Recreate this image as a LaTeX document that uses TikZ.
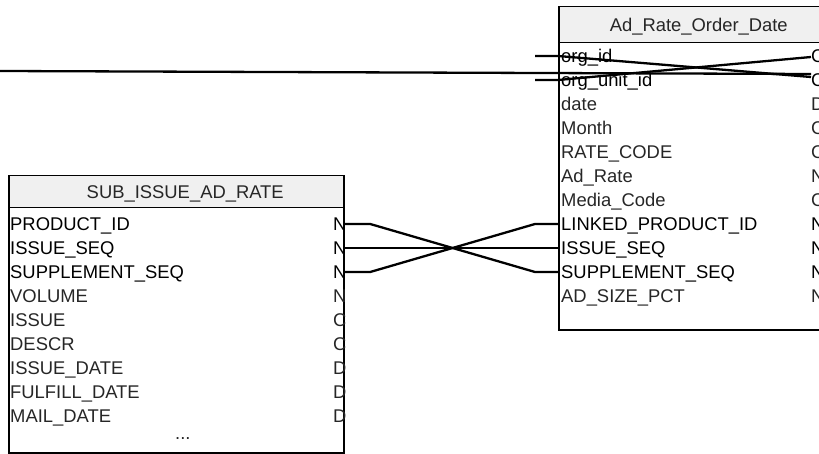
\documentclass[tikz,border=0pt]{standalone}
\usepackage{fontspec}
\setmainfont{Liberation Sans}
\begin{document}
\begin{tikzpicture}[x=1pt,y=-1pt,
	every node/.style={font=\fontsize{18.4}{20}\selectfont, inner sep=0pt, text height=13.2pt, text depth=0pt},
	tbl/.style={draw, line width=2.2pt, anchor=north west},
	hdr/.style={draw, line width=1.5pt, fill=black!6, anchor=north west},
	hdrtxt/.style={text=black!85},
	fld/.style={anchor=west, text=black!85},
	key/.style={anchor=west, text=black},
	rel/.style={line width=2.3pt}]
	\useasboundingbox (0,0) rectangle (819,454);
	\clip (0,0) rectangle (819,454);
	% SUB_ISSUE_AD_RATE
	\node[tbl, minimum width=335pt, minimum height=277pt] (sub) at (8,175) {};
	\node[hdr, minimum width=335pt, minimum height=32pt] (subh) at (8,175) {};
	\node[hdrtxt] (subt) at ([xshift=9pt]subh.center) {SUB\_ISSUE\_AD\_RATE};
	\foreach \n/\t/\s [count=\i from 0] in {PRODUCT\_ID/N/key, ISSUE\_SEQ/N/key, SUPPLEMENT\_SEQ/N/key, VOLUME/N/fld, ISSUE/C/fld, DESCR/C/fld, ISSUE\_DATE/D/fld, FULFILL\_DATE/D/fld, MAIL\_DATE/D/fld} {
		\node[\s] (s\i) at (10,{224+24*\i}) {\n};
		\node[\s] (st\i) at (333,{224+24*\i}) {\t};
	}
	\node[fld] (smore) at (175,{224+24*9-7}) {...};
	% Ad_Rate_Order_Date
	\node[tbl, minimum width=262pt, minimum height=323pt] (ado) at (558,6) {};
	\node[hdr, minimum width=262pt, minimum height=36pt] (adoh) at (558,6) {};
	\node[hdrtxt] (adot) at ([xshift=9pt]adoh.center) {Ad\_Rate\_Order\_Date};
	\foreach \n/\t/\s [count=\i from 0] in {org\_id/C/key, org\_unit\_id/C/key, date/D/fld, Month/C/fld, RATE\_CODE/C/fld, Ad\_Rate/N/fld, Media\_Code/C/fld, LINKED\_PRODUCT\_ID/N/key, ISSUE\_SEQ/N/key, SUPPLEMENT\_SEQ/N/key, AD\_SIZE\_PCT/N/fld} {
		\node[\s] (a\i) at (561,{56+24*\i}) {\n};
		\node[\s] (at\i) at (811,{56+24*\i}) {\t};
	}
	% relations
	\draw[rel] (sub.east |- s0) -- ++(25,0) -- ([xshift=-23pt]ado.west |- a9) -- (ado.west |- a9);
	\draw[rel] (sub.east |- s1) -- (ado.west |- a8);
	\draw[rel] (sub.east |- s2) -- ++(25,0) -- ([xshift=-23pt]ado.west |- a7) -- (ado.west |- a7);
	\draw[rel] ([xshift=-23pt]ado.west |- a0) -- (ado.west |- a0) -- ([yshift=3pt]at1.west);
	\draw[rel] ([xshift=-23pt]ado.west |- a1) -- (ado.west |- a1) -- ([yshift=-1pt]at0.west);
	\coordinate (offleft) at (0,71);
	\draw[rel] (offleft) -- ([yshift=6pt]at1.west);
\end{tikzpicture}
\end{document}
